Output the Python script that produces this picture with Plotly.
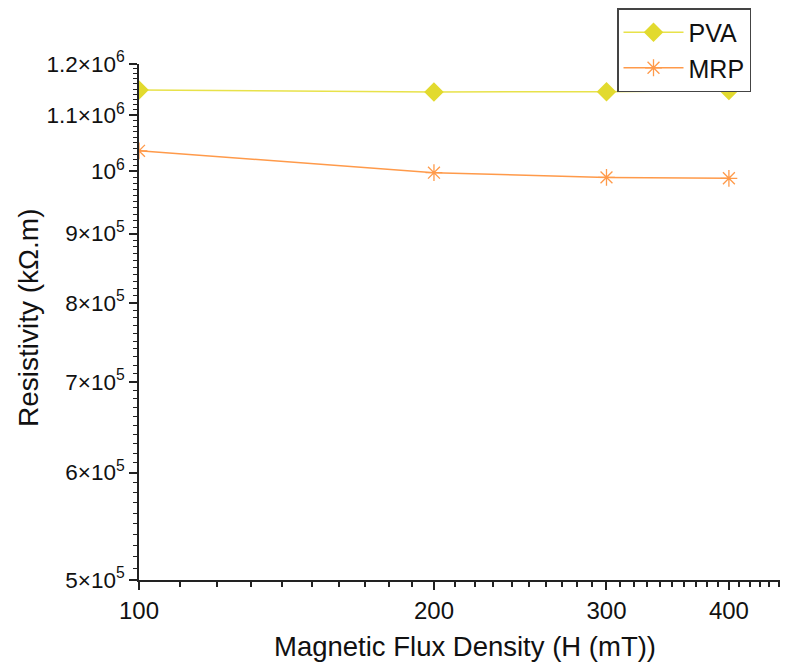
import plotly.graph_objects as go

# Data
field_mT = [100, 200, 300, 400]
pva_resistivity = [1.148e6, 1.1445e6, 1.145e6, 1.147e6]
mrp_resistivity = [1.0356e6, 0.998e6, 0.990e6, 0.9885e6]

x_tick_vals = [100, 200, 300, 400]
x_tick_text = ["100", "200", "300", "400"]
y_tick_vals = [5e5, 6e5, 7e5, 8e5, 9e5, 1e6, 1.1e6, 1.2e6]
y_tick_text = ["5×10<sup>5</sup>", "6×10<sup>5</sup>", "7×10<sup>5</sup>", "8×10<sup>5</sup>",
               "9×10<sup>5</sup>", "10<sup>6</sup>", "1.1×10<sup>6</sup>", "1.2×10<sup>6</sup>"]

x_minor = [v for v in range(110, 451, 10) if v not in x_tick_vals]
y_minor = [v * 1e4 for v in range(51, 120) if v % 10 != 0]

PVA_COLOR = "#E2DA2E"
MRP_COLOR = "#FF9A4A"
FONT = "Liberation Sans, Arial, sans-serif"

fig = go.Figure()
fig.add_trace(go.Scatter(
    x=field_mT, y=pva_resistivity, name="PVA", mode="lines+markers",
    line=dict(color="#E8E24A", width=1.5),
    marker=dict(symbol="diamond", size=15, color=PVA_COLOR),
))
fig.add_trace(go.Scatter(
    x=field_mT, y=mrp_resistivity, name="MRP", mode="lines+markers",
    line=dict(color=MRP_COLOR, width=1.5),
    marker=dict(symbol="asterisk-open", size=14, color=MRP_COLOR, line=dict(color=MRP_COLOR, width=1.3)),
))

# page body has an 8px margin: figure is drawn from (8, 8)
fig.update_layout(
    width=782, height=663,
    margin=dict(l=131, r=10, t=56, b=91, autoexpand=False),
    paper_bgcolor="white", plot_bgcolor="white",
    font=dict(family=FONT, color="#111111"),
    showlegend=True,
    legend=dict(
        x=(617 - 139) / 641, y=(580 - 8) / 516, xanchor="left", yanchor="top",
        bordercolor="#444444", borderwidth=1.5, bgcolor="white",
        font=dict(size=25, family=FONT, color="#111111"),
        tracegroupgap=0, itemwidth=60,
    ),
    annotations=[
        dict(text="Magnetic Flux Density (H (mT))", xref="paper", yref="paper",
             x=(465 - 139) / 641, y=-(646 - 580) / 516,
             xanchor="center", yanchor="middle", showarrow=False,
             font=dict(size=27.5, family=FONT, color="#111")),
        dict(text="Resistivity (kΩ.m)", xref="paper", yref="paper",
             x=-(139 - 28) / 641, y=(580 - 318) / 516, textangle=-90,
             xanchor="center", yanchor="middle", showarrow=False,
             font=dict(size=28, family=FONT, color="#111")),
    ],
)

fig.update_xaxes(
    type="log", range=[2, 2.6542], automargin=False,
    tickmode="array", tickvals=x_tick_vals, ticktext=x_tick_text,
    ticks="outside", ticklen=8, tickwidth=1.5, tickcolor="#222",
    showline=True, linecolor="#222", linewidth=1.5,
    showgrid=False, zeroline=False,
    tickfont=dict(size=24, family=FONT, color="#111"),
    minor=dict(tickmode="array", tickvals=x_minor, ticks="outside", ticklen=5, tickwidth=1.5, tickcolor="#222", showgrid=False),
)
fig.update_yaxes(
    type="log", range=[5.69897, 6.07918], automargin=False,
    tickmode="array", tickvals=y_tick_vals, ticktext=y_tick_text,
    ticks="outside", ticklen=8, tickwidth=1.5, tickcolor="#222",
    showline=True, linecolor="#222", linewidth=1.5,
    showgrid=False, zeroline=False,
    tickfont=dict(size=22.5, family=FONT, color="#111"),
    minor=dict(tickmode="array", tickvals=y_minor, ticks="outside", ticklen=4, tickwidth=1.2, tickcolor="#222", showgrid=False),
)

fig.write_html("out.html")
